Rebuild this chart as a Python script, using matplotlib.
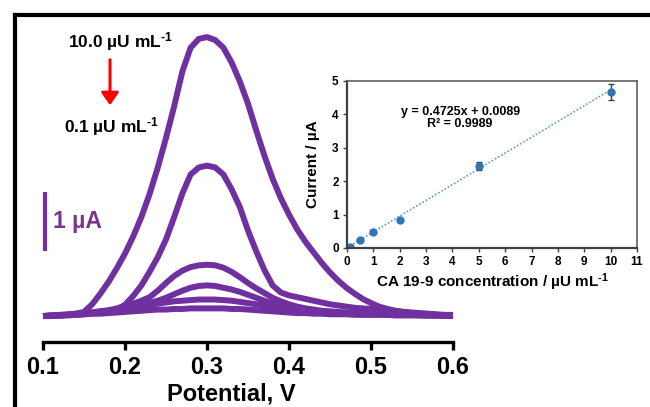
import matplotlib
matplotlib.use("Agg")
from matplotlib import pyplot as plt
from matplotlib.lines import Line2D
from matplotlib.patches import FancyArrowPatch
import numpy as np

plt.rcParams['font.family'] = ['Liberation Sans', 'DejaVu Sans']
plt.rcParams['font.weight'] = 'bold'
plt.rcParams['mathtext.fontset'] = 'custom'
plt.rcParams['mathtext.rm'] = 'Liberation Sans:bold'
plt.rcParams['mathtext.bf'] = 'Liberation Sans:bold'
plt.rcParams['mathtext.default'] = 'rm'

# DPV curves, current in uA (relative to baseline)
potential = np.round(np.arange(0.10, 0.605, 0.01), 2)

cur_10 = [0.00, 0.00, 0.01, 0.02, 0.04, 0.07, 0.20, 0.38, 0.58, 0.81,
          1.06, 1.35, 1.68, 2.07, 2.52, 3.02, 3.56, 4.15, 4.55, 4.70,
          4.73, 4.68, 4.55, 4.30, 3.98, 3.60, 3.15, 2.72, 2.33, 2.00,
          1.72, 1.47, 1.26, 1.08, 0.90, 0.74, 0.60, 0.48, 0.38, 0.29,
          0.22, 0.16, 0.12, 0.09, 0.07, 0.05, 0.04, 0.03, 0.02, 0.01,
          0.01]
cur_5 = [0.00, 0.00, 0.01, 0.01, 0.02, 0.03, 0.04, 0.06, 0.08, 0.11,
         0.19, 0.34, 0.52, 0.75, 1.00, 1.30, 1.68, 2.08, 2.40, 2.52,
         2.55, 2.52, 2.40, 2.15, 1.85, 1.45, 1.10, 0.78, 0.52, 0.40,
         0.35, 0.32, 0.29, 0.26, 0.23, 0.20, 0.18, 0.16, 0.14, 0.13,
         0.12, 0.10, 0.09, 0.08, 0.07, 0.06, 0.05, 0.04, 0.03, 0.02,
         0.02]
cur_2 = [0.00, 0.00, 0.01, 0.02, 0.03, 0.04, 0.06, 0.08, 0.10, 0.13,
         0.17, 0.21, 0.26, 0.32, 0.43, 0.56, 0.68, 0.77, 0.83, 0.86,
         0.87, 0.86, 0.82, 0.75, 0.66, 0.56, 0.47, 0.39, 0.31, 0.25,
         0.20, 0.16, 0.13, 0.11, 0.09, 0.08, 0.07, 0.06, 0.05, 0.05,
         0.04, 0.04, 0.03, 0.03, 0.03, 0.02, 0.02, 0.02, 0.01, 0.01,
         0.01]
cur_1 = [0.00, 0.01, 0.01, 0.02, 0.03, 0.04, 0.05, 0.07, 0.09, 0.11,
         0.13, 0.16, 0.19, 0.22, 0.26, 0.31, 0.37, 0.43, 0.48, 0.51,
         0.52, 0.51, 0.48, 0.45, 0.41, 0.36, 0.31, 0.26, 0.21, 0.17,
         0.14, 0.12, 0.10, 0.08, 0.07, 0.06, 0.05, 0.05, 0.04, 0.04,
         0.03, 0.03, 0.03, 0.02, 0.02, 0.02, 0.02, 0.01, 0.01, 0.01,
         0.01]
cur_05 = [0.00, 0.01, 0.02, 0.03, 0.04, 0.05, 0.06, 0.08, 0.09, 0.11,
          0.13, 0.15, 0.17, 0.19, 0.21, 0.23, 0.25, 0.26, 0.27, 0.28,
          0.28, 0.28, 0.27, 0.26, 0.24, 0.22, 0.20, 0.18, 0.15, 0.13,
          0.11, 0.09, 0.08, 0.07, 0.06, 0.05, 0.05, 0.04, 0.04, 0.03,
          0.03, 0.03, 0.02, 0.02, 0.02, 0.02, 0.01, 0.01, 0.01, 0.01,
          0.01]
cur_01 = [0.00, 0.01, 0.01, 0.02, 0.02, 0.03, 0.04, 0.04, 0.05, 0.06,
          0.07, 0.08, 0.09, 0.10, 0.11, 0.11, 0.12, 0.12, 0.13, 0.13,
          0.13, 0.13, 0.13, 0.12, 0.12, 0.11, 0.10, 0.09, 0.08, 0.07,
          0.06, 0.05, 0.05, 0.04, 0.04, 0.03, 0.03, 0.03, 0.02, 0.02,
          0.02, 0.02, 0.02, 0.01, 0.01, 0.01, 0.01, 0.01, 0.01, 0.00,
          0.00]
curves = [cur_10, cur_5, cur_2, cur_1, cur_05, cur_01]

# calibration inset
conc = [0.1, 0.5, 1, 2, 5, 10]
resp = [0.04, 0.23, 0.47, 0.84, 2.45, 4.67]
resp_err = [0.03, 0.03, 0.03, 0.03, 0.12, 0.24]
slope, intercept = 0.4725, 0.0089

purple = '#7030A0'
W, H = 650, 407
fig = plt.figure(figsize=(6.5, 4.07), dpi=100)

# frame lines top and left
fig.add_artist(Line2D([15 / W, 15 / W], [0, 1 - 15 / H], color='black', lw=3, transform=fig.transFigure))
fig.add_artist(Line2D([15 / W, 1], [1 - 15 / H, 1 - 15 / H], color='black', lw=3, transform=fig.transFigure))

ax = fig.add_axes([43 / W, (H - 342) / H, 410 / W, 322 / H])
for c in curves:
    ax.plot(potential, c, color=purple, lw=4.3, solid_capstyle='butt',
            solid_joinstyle='round', clip_on=False)
ax.set_xlim(0.1, 0.6)
ax.set_ylim(-0.44, 5.02)
for s in ['top', 'right', 'left']:
    ax.spines[s].set_visible(False)
ax.spines['bottom'].set_linewidth(2.4)
ax.set_yticks([])
ax.set_xticks([0.1, 0.2, 0.3, 0.4, 0.5, 0.6])
ax.set_xticklabels(['0.1', '0.2', '0.3', '0.4', '0.5', '0.6'])
ax.tick_params(axis='x', direction='out', length=5.8, width=2.4, labelsize=17, pad=4)
ax.patch.set_alpha(0)
fig.text(231 / W, 1 - 401 / H, 'Potential, V', ha='center', va='baseline', fontsize=17, fontweight='bold')

# scale bar
ax.plot([0.1025, 0.1025], [1.10, 2.10], color=purple, lw=3, solid_capstyle='butt', clip_on=False)
ax.text(0.112, 1.6, '1 µA', color='#7a3391', fontsize=16.5, fontweight='bold', va='center', ha='left')

# concentration annotations
sup = r'$^{\text{-}1}$'
fig.text(120 / W, 1 - 42 / H, '10.0 µU mL' + sup, ha='center', va='center', fontsize=12.5, fontweight='bold')
fig.text(112 / W, 1 - 127 / H, '0.1 µU mL' + sup, ha='center', va='center', fontsize=12.5, fontweight='bold')
fig.add_artist(FancyArrowPatch((110 / W, 1 - 57 / H), (110 / W, 1 - 108 / H),
               transform=fig.transFigure, arrowstyle='-|>,head_length=5,head_width=3.5',
               color='red', lw=2.2, mutation_scale=1.5))

# inset
axi = fig.add_axes([347 / W, (H - 248) / H, 290 / W, 167 / H])
xs = np.array([0, 10])
axi.plot(xs, slope * xs + intercept, color='#5B9BD5', lw=1.2, ls=(0, (1, 1.2)))
axi.errorbar(conc, resp, yerr=resp_err, fmt='o', color='#2E75B6', ms=5,
             ecolor='#404040', elinewidth=1, capsize=2.5, capthick=1)
axi.set_xlim(0, 11)
axi.set_ylim(0, 5)
axi.set_xticks(range(0, 12))
axi.set_yticks(range(0, 6))
axi.tick_params(labelsize=8.5, length=3, width=1, color='#404040', pad=3)
for s in ['left', 'bottom']:
    axi.spines[s].set_color('#404040')
    axi.spines[s].set_linewidth(1.6)
for s in ['top', 'right']:
    axi.spines[s].set_color('#606060')
    axi.spines[s].set_linewidth(1.2)
axi.set_xlabel('CA 19-9 concentration / µU mL' + sup, fontsize=11, fontweight='bold', labelpad=2)
axi.set_ylabel('Current / µA', fontsize=11, fontweight='bold', labelpad=9)
axi.text(4.29, 4.07, 'y = 0.4725x + 0.0089', ha='center', va='center', fontsize=9, fontweight='bold')
axi.text(4.29, 3.72, 'R² = 0.9989', ha='center', va='center', fontsize=9, fontweight='bold')

fig.savefig('out.png', dpi=100)
